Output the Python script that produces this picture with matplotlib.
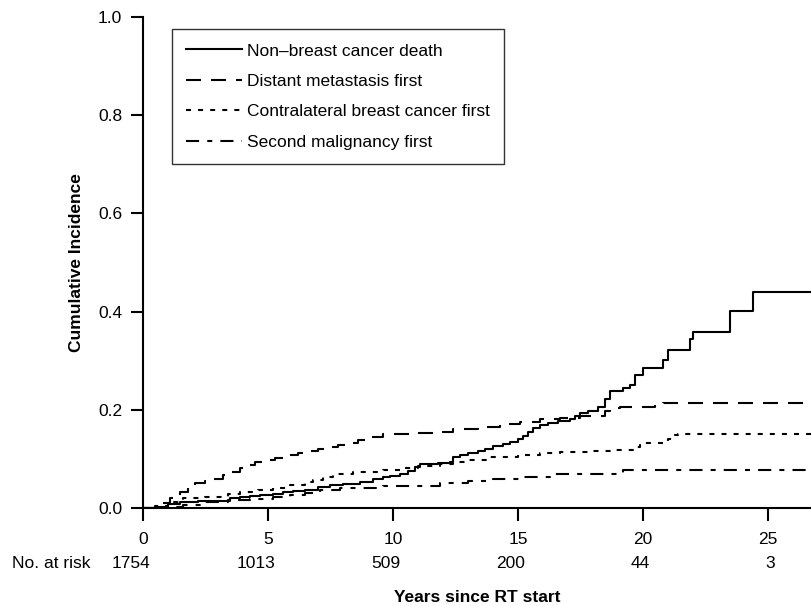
import matplotlib
matplotlib.use("Agg")
import matplotlib.pyplot as plt
from matplotlib import font_manager as fm

# ---------------- data ----------------
x_end = 26.8

nonbreast_t = [0, 0.5, 1.0, 1.5, 2.2, 3.5, 3.9, 4.3, 4.7, 5.2, 5.6, 6.0, 6.5, 7.0, 7.5, 8.0,
               8.7, 9.2, 9.6, 9.9, 10.3, 10.6, 10.9, 11.1, 11.8, 12.3, 12.4, 12.7, 13.0, 13.4,
               13.7, 14.0, 14.4, 14.7, 15.0, 15.2, 15.4, 15.6, 15.9, 16.2, 16.6, 17.1, 17.3,
               17.5, 17.8, 18.2, 18.5, 18.7, 19.2, 19.5, 19.7, 20.0, 20.8, 21.0, 21.9, 22.0,
               23.5, 24.4]
nonbreast_v = [0, 0.003, 0.008, 0.012, 0.015, 0.020, 0.022, 0.024, 0.026, 0.029, 0.032, 0.034,
               0.037, 0.043, 0.046, 0.049, 0.053, 0.059, 0.063, 0.066, 0.070, 0.076, 0.083,
               0.090, 0.092, 0.094, 0.103, 0.108, 0.111, 0.117, 0.120, 0.126, 0.130, 0.134,
               0.140, 0.147, 0.155, 0.162, 0.169, 0.173, 0.177, 0.181, 0.188, 0.193, 0.198,
               0.206, 0.222, 0.238, 0.244, 0.250, 0.270, 0.285, 0.301, 0.322, 0.345, 0.358,
               0.401, 0.440]

distant_t = [0, 0.5, 0.8, 1.1, 1.5, 1.8, 2.1, 2.5, 2.8, 3.2, 3.5, 3.9, 4.2, 4.5, 4.8, 5.3,
             5.8, 6.2, 6.6, 7.0, 7.4, 7.8, 8.2, 8.6, 9.0, 9.6, 10.7, 11.8, 12.4, 13.4, 14.3,
             15.1, 15.9, 16.7, 17.5, 18.5, 18.7, 19.1, 20.5, 20.8]
distant_v = [0, 0.003, 0.010, 0.020, 0.033, 0.042, 0.050, 0.056, 0.060, 0.067, 0.073, 0.081,
             0.088, 0.094, 0.098, 0.102, 0.108, 0.112, 0.116, 0.120, 0.124, 0.128, 0.132,
             0.138, 0.144, 0.150, 0.152, 0.155, 0.160, 0.165, 0.171, 0.175, 0.181, 0.184,
             0.187, 0.197, 0.204, 0.206, 0.210, 0.214]

contra_t = [0, 0.5, 1.0, 1.6, 2.5, 3.4, 3.9, 4.6, 5.2, 5.9, 6.5, 6.8, 7.2, 7.6, 8.4, 9.6,
            10.3, 11.0, 11.9, 12.4, 13.0, 13.8, 15.0, 15.9, 16.7, 18.0, 18.8, 19.7, 19.9,
            21.0, 21.2, 21.4]
contra_v = [0, 0.004, 0.012, 0.020, 0.023, 0.028, 0.033, 0.037, 0.040, 0.047, 0.052, 0.057,
            0.063, 0.069, 0.073, 0.077, 0.081, 0.086, 0.090, 0.094, 0.097, 0.104, 0.108,
            0.112, 0.114, 0.116, 0.118, 0.124, 0.132, 0.141, 0.149, 0.151]

second_t = [0, 1.0, 1.6, 2.5, 3.4, 4.3, 5.2, 5.9, 6.5, 7.1, 7.9, 9.6, 11.9, 13.0, 14.0,
            15.1, 16.3, 19.2]
second_v = [0, 0.002, 0.006, 0.012, 0.016, 0.018, 0.023, 0.026, 0.030, 0.036, 0.040, 0.045,
            0.051, 0.056, 0.060, 0.063, 0.069, 0.077]

series_labels = ["Non\u2013breast cancer death", "Distant metastasis first",
                 "Contralateral breast cancer first", "Second malignancy first"]

xticks = [0, 5, 10, 15, 20, 25]
at_risk = ["1754", "1013", "509", "200", "44", "3"]
yticks = [0.0, 0.2, 0.4, 0.6, 0.8, 1.0]

# ---------------- fonts ----------------
names = {f.name for f in fm.fontManager.ttflist}
fam = ["Liberation Sans Narrow", "Liberation Sans", "DejaVu Sans"]
fam = [f for f in fam if f in names] or ["DejaVu Sans"]
plt.rcParams["font.family"] = fam

# ---------------- figure ----------------
W, H = 812, 606
fig = plt.figure(figsize=(W / 100, H / 100), dpi=100)
left = 143 / W
bottom = (H - 508) / H
top = (H - 17) / H
ax = fig.add_axes([left, bottom, 1.0 - left, top - bottom])

lw = 1.5
styles = [
    dict(linestyle="-"),
    dict(linestyle=(0, (7.2, 4.8))),
    dict(linestyle=(0, (2.4, 3.4))),
    dict(linestyle=(0, (6.3, 3.9, 2.4, 3.9))),
]
series = [(nonbreast_t, nonbreast_v), (distant_t, distant_v),
          (contra_t, contra_v), (second_t, second_v)]
for (t, v), st, lab in zip(series, styles, series_labels):
    ax.plot(list(t) + [x_end], list(v) + [v[-1]], drawstyle="steps-post",
            color="black", linewidth=lw, label=lab, **st)

ax.set_xlim(0, 26.76)
ax.set_ylim(0, 1.0)
ax.set_xticks(xticks)
ax.set_yticks(yticks)
ax.set_xticklabels([str(x) for x in xticks])
ax.set_yticklabels([f"{y:.1f}" for y in yticks])
for s in ["top", "right"]:
    ax.spines[s].set_visible(False)
for s in ["left", "bottom"]:
    ax.spines[s].set_linewidth(1.5)
ax.tick_params(axis="both", direction="out", length=9, width=1.5, labelsize=12.5,
               colors="black")
ax.tick_params(axis="y", pad=6)
ax.tick_params(axis="x", pad=8)

ax.set_ylabel("Cumulative Incidence", fontsize=12.5, fontweight="bold", labelpad=10)

# number at risk row
for x, n in zip(xticks, at_risk):
    ax.annotate(n, xy=(x, 0), xycoords=("data", "axes fraction"),
                xytext=(7, -55), textcoords="offset pixels",
                ha="right", va="center", fontsize=12.5)
ax.annotate("No. at risk", xy=(0, 0), xycoords="axes fraction",
            xytext=(-92, -55), textcoords="offset pixels",
            ha="center", va="center", fontsize=12.5)
ax.annotate("Years since RT start", xy=(0.5, 0), xycoords="axes fraction",
            xytext=(0, -89), textcoords="offset pixels",
            ha="center", va="center", fontsize=12.5, fontweight="bold")

leg = ax.legend(loc="upper left", bbox_to_anchor=((172 - 143) / 669, (508 - 29) / 491),
                borderaxespad=0, frameon=True, fancybox=False, fontsize=12.5,
                handlelength=3.2, handletextpad=0.3, labelspacing=0.88,
                borderpad=0.83, edgecolor="black")
leg.get_frame().set_linewidth(1.0)

fig.savefig("out.png", dpi=100)
